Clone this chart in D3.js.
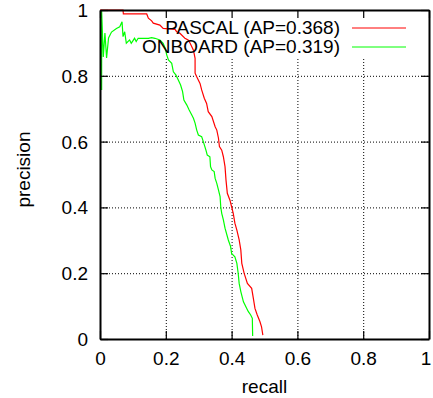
<!DOCTYPE html>
<html>
<head>
<meta charset="utf-8">
<script src="https://cdn.jsdelivr.net/npm/d3@7"></script>
<style>
  body { margin: 0; background: #fff; }
  svg { display: block; font-family: "Liberation Sans", Arial, Helvetica, sans-serif; }
  .grid line { stroke: #000; stroke-width: 1; stroke-dasharray: 1,2; }
  .grid path { display: none; }
</style>
</head>
<body>
<div id="chart"></div>
<script>
// series: [recall, precision] pairs
const pascalRecall = [0, 0.070, 0.071, 0.142, 0.147, 0.157, 0.162, 0.182, 0.192, 0.228, 0.233, 0.243, 0.258, 0.268, 0.274, 0.284, 0.289, 0.289, 0.294, 0.304, 0.309, 0.317, 0.324, 0.329, 0.340, 0.350, 0.355, 0.360, 0.363, 0.370, 0.375, 0.380, 0.383, 0.387, 0.395, 0.400, 0.405, 0.410, 0.416, 0.423, 0.428, 0.431, 0.438, 0.448, 0.461, 0.466, 0.471, 0.478, 0.486, 0.491, 0.495];
const pascalPrecision = [1.000, 1.000, 0.988, 0.988, 0.975, 0.967, 0.960, 0.954, 0.944, 0.941, 0.934, 0.929, 0.914, 0.909, 0.899, 0.878, 0.853, 0.808, 0.797, 0.777, 0.757, 0.732, 0.716, 0.691, 0.676, 0.645, 0.635, 0.611, 0.585, 0.574, 0.554, 0.524, 0.483, 0.443, 0.422, 0.402, 0.382, 0.352, 0.331, 0.301, 0.271, 0.230, 0.200, 0.169, 0.154, 0.124, 0.093, 0.073, 0.053, 0.037, 0.012];

const onboardRecall = [0.005, 0.005, 0.010, 0.015, 0.020, 0.026, 0.035, 0.050, 0.060, 0.067, 0.070, 0.075, 0.080, 0.090, 0.095, 0.105, 0.110, 0.116, 0.126, 0.147, 0.157, 0.167, 0.182, 0.192, 0.198, 0.203, 0.208, 0.218, 0.223, 0.231, 0.238, 0.245, 0.251, 0.255, 0.264, 0.271, 0.279, 0.284, 0.289, 0.294, 0.299, 0.309, 0.314, 0.322, 0.326, 0.334, 0.336, 0.340, 0.347, 0.350, 0.355, 0.360, 0.365, 0.367, 0.370, 0.375, 0.380, 0.390, 0.397, 0.400, 0.410, 0.416, 0.420, 0.423, 0.428, 0.436, 0.446, 0.451, 0.458, 0.463, 0.464];
const onboardPrecision = [0.757, 0.997, 0.857, 0.930, 0.854, 0.915, 0.933, 0.944, 0.949, 0.964, 0.919, 0.934, 0.899, 0.909, 0.899, 0.914, 0.904, 0.914, 0.914, 0.914, 0.916, 0.914, 0.909, 0.899, 0.884, 0.863, 0.848, 0.838, 0.812, 0.802, 0.787, 0.772, 0.752, 0.726, 0.711, 0.696, 0.681, 0.671, 0.656, 0.635, 0.620, 0.615, 0.600, 0.574, 0.559, 0.554, 0.524, 0.514, 0.509, 0.488, 0.473, 0.453, 0.433, 0.402, 0.382, 0.362, 0.337, 0.301, 0.281, 0.260, 0.250, 0.230, 0.200, 0.169, 0.144, 0.113, 0.093, 0.083, 0.073, 0.063, 0.009];

const seriesNames = ["PASCAL (AP=0.368)", "ONBOARD (AP=0.319)"];
const seriesColors = ["#ff0000", "#00ff00"];

const xTicks = [0, 0.2, 0.4, 0.6, 0.8, 1];
const xTickLabels = ["0", "0.2", "0.4", "0.6", "0.8", "1"];
const yTicks = [0, 0.2, 0.4, 0.6, 0.8, 1];
const yTickLabels = ["0", "0.2", "0.4", "0.6", "0.8", "1"];

const W = 433, H = 398;
const margin = {left: 100, right: 4, top: 10, bottom: 59};
const plotW = W - margin.left - margin.right;
const plotH = H - margin.top - margin.bottom;

const svg = d3.select("#chart").append("svg")
  .attr("width", W)
  .attr("height", H);

const x = d3.scaleLinear().domain([0, 1]).range([margin.left, margin.left + plotW]);
const y = d3.scaleLinear().domain([0, 1]).range([margin.top + plotH, margin.top]);

// dotted grid, inner ticks only
svg.append("g")
  .attr("class", "grid")
  .attr("transform", "translate(0," + (margin.top + plotH) + ")")
  .call(d3.axisBottom(x).tickValues(xTicks.slice(1, -1)).tickSize(-plotH).tickFormat(""));
svg.append("g")
  .attr("class", "grid")
  .attr("transform", "translate(" + margin.left + ",0)")
  .call(d3.axisLeft(y).tickValues(yTicks.slice(1, -1)).tickSize(-plotW).tickFormat(""));

// key background hides the grid under the legend
svg.append("rect")
  .attr("x", x(0.11)).attr("y", margin.top + 1)
  .attr("width", x(0.95) - x(0.11)).attr("height", 46)
  .attr("fill", "#fff");

// curves
const series = [
  {r: pascalRecall, p: pascalPrecision},
  {r: onboardRecall, p: onboardPrecision}
];
const line = d3.line().x(d => x(d[0])).y(d => y(d[1]));

series.forEach((s, i) => {
  const pts = s.r.map((r, j) => [r, s.p[j]]);
  svg.append("path")
    .datum(pts)
    .attr("fill", "none")
    .attr("stroke", seriesColors[i])
    .attr("stroke-width", 1.2)
    .attr("stroke-linejoin", "miter")
    .attr("d", line);
});

// axes with inward ticks
const fontSize = "19px";
const gx = svg.append("g")
  .attr("transform", "translate(0," + (margin.top + plotH) + ")")
  .call(d3.axisBottom(x).tickValues(xTicks).tickSize(-8).tickSizeOuter(0).tickPadding(13)
    .tickFormat((d, i) => xTickLabels[i]));
const gy = svg.append("g")
  .attr("transform", "translate(" + margin.left + ",0)")
  .call(d3.axisLeft(y).tickValues(yTicks).tickSize(-8).tickSizeOuter(0).tickPadding(12)
    .tickFormat((d, i) => yTickLabels[i]));
const gt = svg.append("g")
  .attr("transform", "translate(0," + margin.top + ")")
  .call(d3.axisTop(x).tickValues(xTicks).tickSize(-8).tickSizeOuter(0).tickFormat(""));
const gr = svg.append("g")
  .attr("transform", "translate(" + (margin.left + plotW) + ",0)")
  .call(d3.axisRight(y).tickValues(yTicks).tickSize(-8).tickSizeOuter(0).tickFormat(""));

[gx, gy, gt, gr].forEach(g => {
  g.select(".domain").attr("stroke", "#000").attr("stroke-width", 2);
  g.selectAll(".tick line").attr("stroke", "#000").attr("stroke-width", 1.2);
  g.selectAll("text").attr("fill", "#000").style("font-size", fontSize)
    .style("font-family", '"Liberation Sans", Arial, sans-serif');
});
gy.selectAll("text").attr("dy", "0.34em");
// last x label sits right at the window edge
gx.selectAll(".tick text").filter((d, i) => i === xTicks.length - 1).attr("text-anchor", "end").attr("dx", "0.1em");

// axis titles
svg.append("text")
  .attr("x", x(0.5)).attr("y", 393)
  .attr("text-anchor", "middle")
  .style("font-size", fontSize)
  .text("recall");
svg.append("text")
  .attr("transform", "translate(30," + y(0.515) + ") rotate(-90)")
  .attr("text-anchor", "middle")
  .style("font-size", fontSize)
  .text("precision");

// legend
const legend = svg.append("g");
seriesNames.forEach((name, i) => {
  const ly = 28 + i * 19;
  legend.append("text")
    .attr("x", 340).attr("y", ly)
    .attr("dy", "0.33em")
    .attr("text-anchor", "end")
    .style("font-size", fontSize)
    .text(name);
  legend.append("line")
    .attr("x1", 352).attr("x2", 406)
    .attr("y1", ly).attr("y2", ly)
    .attr("stroke", seriesColors[i])
    .attr("stroke-width", 1);
});
</script>
</body>
</html>
